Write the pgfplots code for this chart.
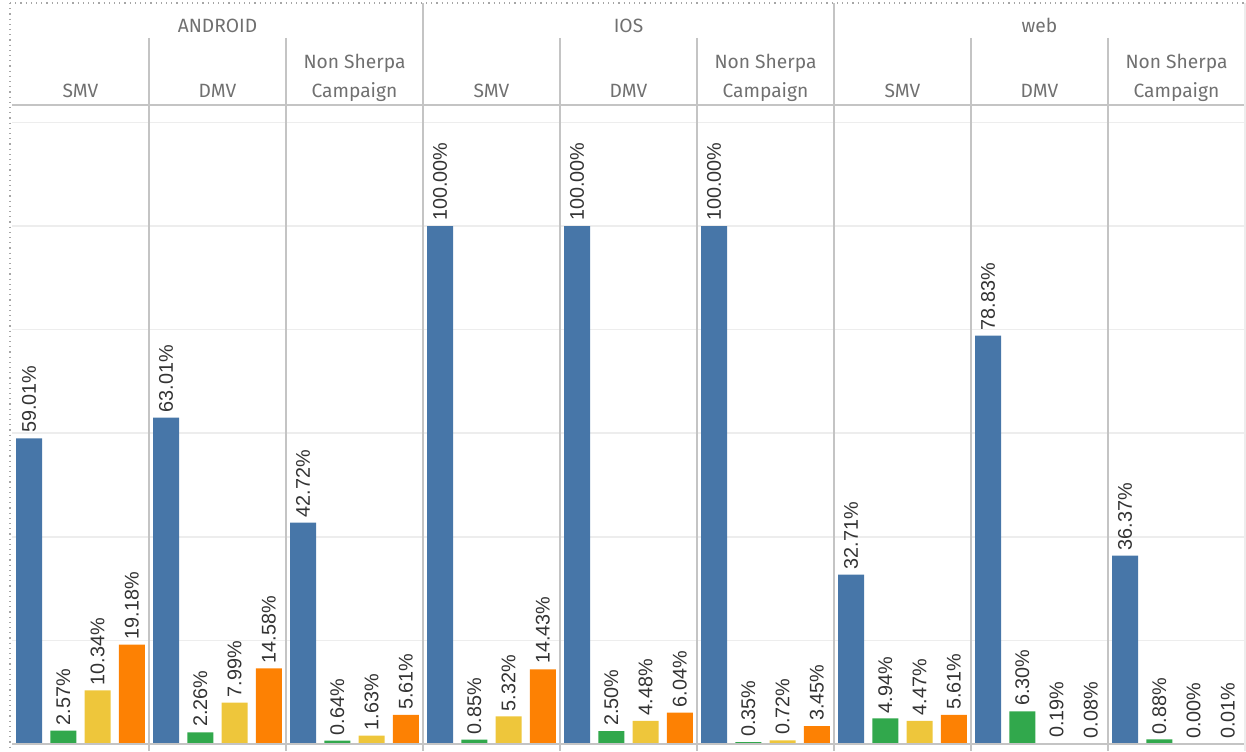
\documentclass[border=0pt]{standalone}
\usepackage{fontspec}
\setmainfont{Liberation Sans}
\newfontfamily\hdr{Fira Sans}
\usepackage{pgfplots}
\pgfplotsset{compat=1.18}
\usepackage{pgfplotstable}
\definecolor{cblue}{HTML}{4776A8}
\definecolor{cgreen}{HTML}{31A84C}
\definecolor{cyellow}{HTML}{EEC63B}
\definecolor{corange}{HTML}{FD8103}
\definecolor{sep}{HTML}{C4C4C4}
\definecolor{grd}{HTML}{EDEDED}
\definecolor{htxt}{HTML}{707070}
\definecolor{ltxt}{HTML}{333333}
\pgfplotstableread{
p b g ye o
0 59.01 2.57 10.34 19.18
1 63.01 2.26 7.99 14.58
2 42.72 0.64 1.63 5.61
3 100.00 0.85 5.32 14.43
4 100.00 2.50 4.48 6.04
5 100.00 0.35 0.72 3.45
6 32.71 4.94 4.47 5.61
7 78.83 6.30 0.19 0.08
8 36.37 0.88 0.00 0.01
}\data
\tikzset{hd/.style={anchor=base, inner sep=0pt, font=\hdr\fontsize{9.6}{11}\selectfont, text=htxt}}
\begin{document}
\begin{tikzpicture}
\begin{axis}[
  name=ax,
  scale only axis,
  width=616.5pt, height=319.5pt,
  xmin=0, xmax=36, ymin=0, ymax=123.36,
  clip=false,
  axis line style={draw=none},
  xtick=\empty, ytick={20,40,60,80,100,120},
  yticklabels={},
  major tick length=0pt,
  ymajorgrids, grid style={grd, line width=0.8pt},
  ybar, bar shift=0pt, bar width=13pt,
  nodes near coords={\pgfmathprintnumber[fixed,fixed zerofill,precision=2,/pgf/number format/assume math mode=true]{\pgfplotspointmeta}\%},
  every node near coord/.append style={rotate=90, anchor=west, inner sep=2.5pt, font=\fontsize{9.9}{11}\selectfont, text=ltxt},
]
\addplot[fill=cblue, draw=none] table[x expr=4*\thisrow{p}+0.5, y=b]{\data};
\addplot[fill=cgreen, draw=none] table[x expr=4*\thisrow{p}+1.5, y=g]{\data};
\addplot[fill=cyellow, draw=none] table[x expr=4*\thisrow{p}+2.5, y=ye]{\data};
\addplot[fill=corange, draw=none] table[x expr=4*\thisrow{p}+3.5, y=o]{\data};
% frame lines
\draw[sep, line width=0.7pt] (axis cs:0,0) -- (axis cs:36,0);
\draw[sep, line width=0.7pt] (axis cs:0,123.36) -- (axis cs:36,123.36);
\pgfplotsinvokeforeach{12,24}{\draw[sep, line width=0.8pt] (axis cs:#1,143.05) -- (axis cs:#1,-1.35);}
\draw[grd, line width=0.8pt] (axis cs:36,143.05) -- (axis cs:36,-1.35);
\pgfplotsinvokeforeach{4,8,16,20,28,32}{\draw[sep, line width=0.8pt] (axis cs:#1,136.3) -- (axis cs:#1,-1.35);}
\draw[gray!70, dotted, line width=0.6pt] (axis cs:-0.058,143.05) -- (axis cs:36.03,143.05);
\draw[gray!70, dotted, line width=0.6pt] (axis cs:-0.058,143.05) -- (axis cs:-0.058,-1.35);
% headers
\node[hd] at (axis cs:6,137.45) {ANDROID};
\node[hd] at (axis cs:18,137.45) {IOS};
\node[hd] at (axis cs:30,137.45) {web};
\pgfplotsinvokeforeach{2,14,26}{\node[hd] at (axis cs:#1,124.9) {SMV};}
\pgfplotsinvokeforeach{6,18,30}{\node[hd] at (axis cs:#1,124.9) {DMV};}
\pgfplotsinvokeforeach{10,22,34}{
  \node[hd] at (axis cs:#1,130.5) {Non Sherpa};
  \node[hd] at (axis cs:#1,124.9) {Campaign};
}
\end{axis}
\pgfresetboundingbox
\path[use as bounding box] ([shift={(-6pt,-3.5pt)}]ax.south west) rectangle ([shift={(0.5pt,52.5pt)}]ax.north east);
\end{tikzpicture}
\end{document}
